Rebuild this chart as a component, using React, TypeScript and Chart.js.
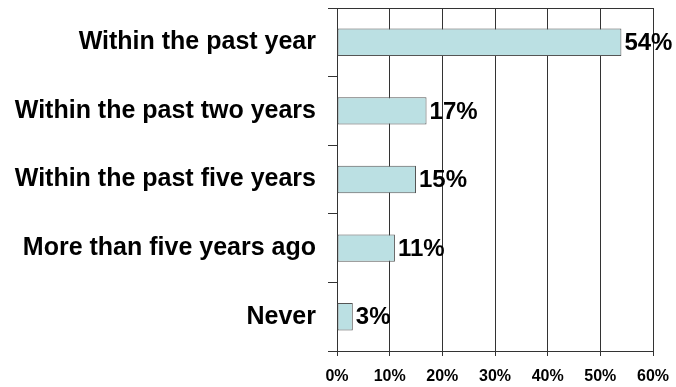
import React, { useEffect, useRef } from "react";
import { Chart, registerables } from "chart.js";

Chart.register(...registerables);

const categories = [
  "Within the past year",
  "Within the past two years",
  "Within the past five years",
  "More than five years ago",
  "Never",
];
const values = [54, 17, 15, 11, 3];
const xTicksMin = 0;
const xTicksMax = 60;
const xTickStep = 10;

const FONT = "Arial, 'Liberation Sans', sans-serif";

const valueLabels = {
  id: "valueLabels",
  afterDatasetsDraw(chart: any) {
    const ctx = chart.ctx;
    const meta = chart.getDatasetMeta(0);
    ctx.save();
    ctx.font = `bold 24px ${FONT}`;
    ctx.fillStyle = "#000";
    ctx.textAlign = "left";
    ctx.textBaseline = "middle";
    meta.data.forEach((bar: any, i: number) => {
      ctx.fillText(values[i] + "%", bar.x + 3, bar.y + 1);
    });
    ctx.restore();
  },
};

const topBorder = {
  id: "topBorder",
  afterDraw(chart: any) {
    const { ctx, chartArea } = chart;
    ctx.save();
    ctx.strokeStyle = "#333";
    ctx.lineWidth = 1;
    ctx.beginPath();
    ctx.moveTo(chartArea.left, chartArea.top + 0.5);
    ctx.lineTo(chartArea.right, chartArea.top + 0.5);
    ctx.stroke();
    ctx.restore();
  },
};

export default function App() {
  const ref = useRef<HTMLCanvasElement>(null);
  useEffect(() => {
    const chart = new Chart(ref.current!, {
      type: "bar",
      data: {
        labels: categories,
        datasets: [
          {
            data: values,
            backgroundColor: "#BBE0E3",
            borderColor: "#555555",
            borderWidth: 1,
            borderSkipped: false,
            categoryPercentage: 0.8,
            barPercentage: 0.5,
          },
        ],
      },
      options: {
        indexAxis: "y",
        animation: false,
        responsive: false,
        maintainAspectRatio: false,
        layout: { padding: { top: 8, right: 23, left: 0, bottom: 0 } },
        plugins: { legend: { display: false }, tooltip: { enabled: false } },
        scales: {
          x: {
            min: xTicksMin,
            max: xTicksMax,
            ticks: {
              stepSize: xTickStep,
              callback: (v: any) => v + "%",
              font: { family: FONT, size: 16, weight: "bold" },
              color: "#000",
              padding: 11,
              maxRotation: 0,
            },
            grid: { color: "#333", lineWidth: 1, tickLength: 5 },
            border: { color: "#333" },
            afterFit: (s: any) => {
              s.height = 36;
              s.paddingLeft = 0;
              s.paddingRight = 0;
            },
          },
          y: {
            offset: true,
            ticks: {
              font: { family: FONT, size: 25, weight: "bold" },
              color: "#000",
              padding: 12,
            },
            grid: {
              offset: true,
              drawOnChartArea: false,
              color: "#333",
              tickLength: 9,
            },
            border: { color: "#333" },
            afterFit: (s: any) => {
              s.width = 337;
              s.paddingTop = 0;
              s.paddingBottom = 0;
            },
          },
        },
      },
      plugins: [valueLabels, topBorder],
    });
    return () => chart.destroy();
  }, []);
  return (
    <div style={{ position: "fixed", left: 0, top: 0, width: 676, height: 387, background: "#fff" }}>
      <canvas ref={ref} width={676} height={387} />
    </div>
  );
}
